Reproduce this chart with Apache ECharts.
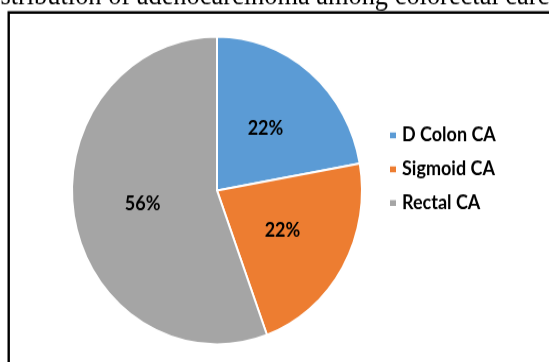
<!DOCTYPE html>
<html>
<head>
<meta charset="utf-8">
<script src="https://cdn.jsdelivr.net/npm/echarts@6/dist/echarts.min.js"></script>
<style>
html,body{margin:0;padding:0;background:#fff;overflow:hidden;}
#wrap{width:549px;height:362px;overflow:hidden;position:relative;}
#chart{width:549px;height:341px;transform:scaleY(1.0616);transform-origin:0 0;}
</style>
</head>
<body>
<div id="wrap"><div id="chart"></div></div>
<script>
const titleText = 'Distribution of adenocarcinoma among colorectal carcinoma';
const categories = ['D Colon CA', 'Sigmoid CA', 'Rectal CA'];
const values = [22.2, 22.2, 55.6];
const colors = ['#5B9BD5', '#ED7D31', '#A5A5A5'];

const chart = echarts.init(document.getElementById('chart'), null, {renderer: 'canvas'});
chart.setOption({
  animation: false,
  backgroundColor: '#fff',
  color: colors,
  graphic: [
    {
      type: 'text', x: -26, y: -3, silent: true,
      style: {text: titleText, font: '26.4px "Liberation Serif"', fill: '#000', textAlign: 'left', textVerticalAlign: 'middle'}
    },
    {
      type: 'rect', silent: true,
      shape: {x: 8.7, y: 11.8, width: 700, height: 500},
      style: {fill: 'none', stroke: '#000', lineWidth: 2.4}
    }
  ],
  legend: {
    orient: 'vertical',
    left: 383,
    top: 112.6,
    padding: 5,
    itemWidth: 8,
    itemHeight: 7.5,
    itemGap: 11.8,
    icon: 'rect',
    textStyle: {fontFamily: 'Lato', fontWeight: 'bold', fontSize: 18, color: '#000', lineHeight: 20},
    data: categories
  },
  series: [{
    type: 'pie',
    center: [217, 179.4],
    radius: 145,
    startAngle: 90,
    clockwise: true,
    avoidLabelOverlap: false,
    itemStyle: {borderColor: '#fff', borderWidth: 2},
    label: {
      show: true,
      position: 'inside',
      fontFamily: 'Lato', fontWeight: 'bold', fontSize: 18, color: '#000',
      formatter: p => Math.round(p.percent) + '%'
    },
    labelLine: {show: false},
    emphasis: {disabled: true},
    data: categories.map((c, i) => ({name: c, value: values[i]}))
  }]
});
</script>
</body>
</html>
